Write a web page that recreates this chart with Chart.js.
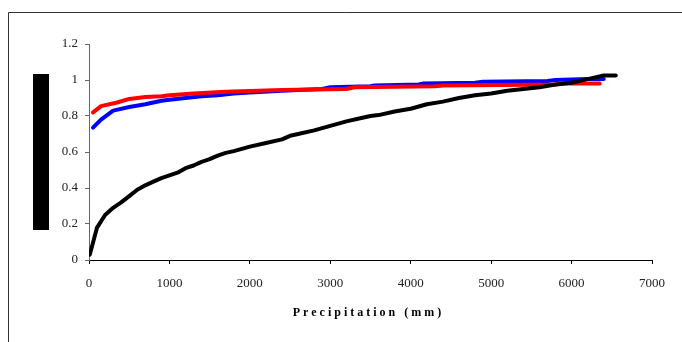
<!DOCTYPE html>
<html>
<head>
<meta charset="utf-8">
<title>Precipitation</title>
<script src="https://cdn.jsdelivr.net/npm/chart.js@4/dist/chart.umd.min.js"></script>
<style>
  html, body { margin: 0; padding: 0; background: #fff; }
  #wrap { width: 682px; height: 342px; position: relative; }
</style>
</head>
<body>
<div id="wrap"><canvas id="chart"></canvas></div>
<script>
// values (precipitation in mm, cumulative fraction)
const blackX = [10, 100, 200, 300, 400, 500, 600, 700, 800, 900, 1000, 1100, 1200, 1300, 1400, 1500, 1600, 1700, 1800, 2000, 2200, 2400, 2500, 2600, 2800, 3000, 3200, 3400, 3500, 3600, 3800, 4000, 4200, 4400, 4600, 4800, 5000, 5200, 5400, 5600, 5800, 6000, 6200, 6400, 6550];
const blackY = [0.03, 0.18, 0.25, 0.29, 0.32, 0.355, 0.39, 0.415, 0.435, 0.455, 0.47, 0.485, 0.51, 0.525, 0.545, 0.56, 0.58, 0.595, 0.605, 0.63, 0.65, 0.67, 0.69, 0.70, 0.72, 0.745, 0.77, 0.79, 0.80, 0.805, 0.825, 0.84, 0.865, 0.88, 0.90, 0.915, 0.925, 0.94, 0.95, 0.96, 0.975, 0.985, 1.005, 1.025, 1.025];

const blueX = [50, 150, 300, 500, 700, 900, 1000, 1200, 1400, 1600, 1800, 2000, 2400, 2600, 2900, 3000, 3500, 3550, 4100, 4150, 4800, 4900, 5700, 5800, 6200, 6400];
const blueY = [0.735, 0.78, 0.83, 0.85, 0.865, 0.885, 0.89, 0.90, 0.91, 0.915, 0.925, 0.93, 0.94, 0.945, 0.95, 0.96, 0.965, 0.97, 0.975, 0.98, 0.985, 0.99, 0.995, 1.0, 1.005, 1.005];

const redX = [50, 150, 350, 500, 700, 900, 1000, 1300, 1700, 2400, 3200, 3300, 4300, 4400, 5800, 5900, 6350];
const redY = [0.82, 0.855, 0.875, 0.895, 0.905, 0.91, 0.915, 0.925, 0.935, 0.945, 0.95, 0.96, 0.965, 0.97, 0.975, 0.98, 0.98];

const yTicks = [0, 0.2, 0.4, 0.6, 0.8, 1, 1.2];
const xTicks = [0, 1000, 2000, 3000, 4000, 5000, 6000, 7000];

function pts(xs, ys) {
  return xs.map((x, i) => ({ x: x, y: ys[i] }));
}

// frame lines, black block on the left and the spaced-out x title
const decor = {
  id: 'decor',
  beforeDraw(chart) {
    const ctx = chart.ctx;
    ctx.save();
    ctx.strokeStyle = '#333';
    ctx.lineWidth = 1;
    ctx.beginPath();
    ctx.moveTo(8.5, 342);
    ctx.lineTo(8.5, 12.5);
    ctx.lineTo(682, 12.5);
    ctx.stroke();
    ctx.fillStyle = '#000';
    ctx.fillRect(33, 74, 16, 156);
    ctx.restore();
  },
  afterDraw(chart) {
    const ctx = chart.ctx;
    const a = chart.chartArea;
    ctx.save();
    ctx.font = 'bold 12px "Liberation Serif", "Times New Roman", serif';
    ctx.letterSpacing = '3px';
    ctx.fillStyle = '#000';
    ctx.textAlign = 'center';
    ctx.textBaseline = 'alphabetic';
    ctx.fillText('Precipitation (mm)', (a.left + a.right) / 2 - 2, 316);
    ctx.restore();
  }
};

const ctx = document.getElementById('chart').getContext('2d');
new Chart(ctx, {
  type: 'line',
  data: {
    datasets: [
      { label: 'black', data: pts(blackX, blackY), borderColor: '#000', borderWidth: 4 },
      { label: 'red', data: pts(redX, redY), borderColor: '#ff0000', borderWidth: 4 },
      { label: 'blue', data: pts(blueX, blueY), borderColor: '#0000ff', borderWidth: 4 }
    ]
  },
  options: {
    responsive: true,
    maintainAspectRatio: false,
    animation: false,
    events: [],
    elements: { point: { radius: 0 }, line: { tension: 0, borderCapStyle: 'round', borderJoinStyle: 'round' } },
    layout: { padding: { top: 44, right: 30, left: 0, bottom: 0 } },
    plugins: { legend: { display: false }, tooltip: { enabled: false } },
    scales: {
      x: {
        type: 'linear',
        min: 0,
        max: 7000,
        afterBuildTicks: (s) => { s.ticks = xTicks.map(v => ({ value: v })); },
        afterFit: (s) => { s.height = 82; },
        grid: { drawOnChartArea: false, color: '#000', tickLength: 4 },
        border: { color: '#000', width: 1 },
        ticks: {
          color: '#222',
          padding: 12,
          maxRotation: 0,
          callback: (v) => String(v),
          font: { family: '"Liberation Serif", "Times New Roman", serif', size: 13 }
        }
      },
      y: {
        min: 0,
        max: 1.2,
        afterBuildTicks: (s) => { s.ticks = yTicks.map(v => ({ value: v })); },
        afterFit: (s) => { s.width = 89; },
        grid: { drawOnChartArea: false, color: '#666', tickLength: 4 },
        border: { color: '#666', width: 1 },
        ticks: {
          color: '#222',
          padding: 7,
          callback: (v) => String(v),
          font: { family: '"Liberation Serif", "Times New Roman", serif', size: 13 }
        }
      }
    }
  },
  plugins: [decor]
});
</script>
</body>
</html>
